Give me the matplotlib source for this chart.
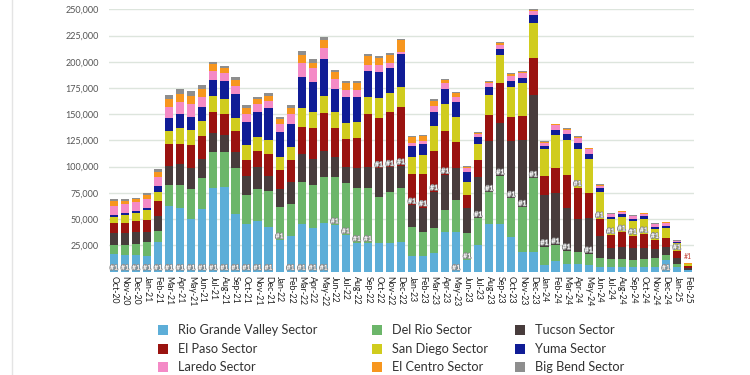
import matplotlib
matplotlib.use('Agg')
import matplotlib.pyplot as plt
import matplotlib.patheffects as pe
from matplotlib.patches import Rectangle
from matplotlib.lines import Line2D
import numpy as np
import pandas as pd

plt.rcParams['font.family'] = ['Lato', 'DejaVu Sans']

# month labels Oct-20 .. Feb-25
months = pd.date_range('2020-10-01', periods=53, freq='MS').strftime('%b-%y').tolist()

sectors = ['Rio Grande Valley Sector', 'Del Rio Sector', 'Tucson Sector',
           'El Paso Sector', 'San Diego Sector', 'Yuma Sector',
           'Laredo Sector', 'El Centro Sector', 'Big Bend Sector']
colors = ['#5daed8', '#6cb66a', '#483c3c', '#9a1310', '#d0cc1e',
          '#101c96', '#f48ac6', '#f7961e', '#8e8e8e']

# monthly apprehensions, thousands
rio_grande = [16.7, 15.7, 15.7, 15.0, 27.8, 62.4, 60.2, 50.4, 59.3, 79.9, 80.9,
              54.5, 45.3, 48.5, 42.7, 30.0, 33.9, 45.3, 41.8, 46.0, 44.3, 34.8,
              27.5, 27.5, 27.5, 27.5, 28.4, 14.6, 14.6, 17.3, 37.4, 37.4, 11.0,
              25.3, 45.3, 45.3, 32.6, 18.3, 18.3, 6.2, 10.3, 7.0, 7.0, 6.2, 4.6,
              4.6, 4.6, 4.0, 4.0, 4.6, 10.5, 4.5, 1.0]
del_rio = [8.6, 9.5, 10.5, 12.7, 11.1, 19.7, 21.9, 28.0, 30.2, 33.7, 32.7,
           43.9, 27.6, 29.9, 34.0, 31.1, 30.5, 40.4, 40.7, 44.4, 45.5, 49.3,
           51.8, 51.8, 43.2, 48.6, 50.8, 28.0, 23.2, 23.8, 21.3, 30.8, 25.4,
           25.4, 30.2, 45.8, 37.2, 42.9, 70.6, 17.5, 14.9, 12.7, 11.8, 10.5,
           7.9, 7.0, 7.0, 7.0, 7.9, 7.9, 5.4, 2.5, 0.8]
tucson = [11.7, 11.7, 11.1, 9.5, 14.0, 18.4, 20.3, 20.0, 17.5, 18.1, 16.5,
          15.9, 18.4, 21.0, 14.6, 17.2, 21.3, 26.4, 24.5, 24.8, 19.7, 15.9,
          19.1, 20.7, 27.6, 23.2, 21.6, 20.7, 23.2, 35.0, 33.4, 30.2, 23.8,
          39.7, 48.9, 50.2, 55.0, 64.2, 79.5, 49.3, 49.9, 41.0, 31.1, 34.0,
          21.6, 11.1, 12.1, 11.1, 10.8, 8.6, 7.0, 5.5, 1.5]
el_paso = [9.0, 9.0, 10.8, 11.8, 14.0, 21.0, 19.1, 22.2, 22.2, 20.7, 20.0,
           19.7, 14.9, 15.6, 20.7, 18.4, 20.7, 26.1, 30.2, 35.6, 27.6, 26.1,
           29.2, 50.2, 48.3, 53.1, 56.3, 29.6, 32.4, 39.1, 42.3, 25.4, 12.7,
           15.9, 24.8, 38.8, 22.9, 22.9, 35.0, 18.4, 23.8, 31.1, 30.2, 23.8,
           15.9, 12.1, 13.7, 12.1, 13.0, 9.2, 9.0, 7.0, 1.8]
san_diego = [6.3, 8.0, 7.9, 9.5, 9.2, 12.7, 14.9, 14.3, 14.6, 15.3, 14.3,
             12.1, 14.3, 13.0, 13.3, 12.1, 12.7, 17.5, 15.3, 16.8, 14.6, 15.9,
             14.6, 15.9, 18.4, 17.5, 19.1, 15.9, 17.5, 23.8, 25.4, 23.2, 12.7,
             15.3, 19.1, 26.4, 28.6, 31.1, 34.0, 25.4, 31.1, 34.0, 37.2, 32.4,
             26.1, 15.3, 14.9, 14.0, 14.0, 9.8, 10.0, 7.3, 1.6]
yuma = [1.2, 1.6, 1.6, 1.9, 5.4, 12.4, 13.7, 12.1, 12.7, 14.9, 17.2,
        22.9, 22.2, 23.8, 30.2, 23.8, 21.6, 29.6, 28.6, 34.6, 22.2, 24.8,
        24.5, 25.4, 25.4, 24.5, 31.1, 11.1, 10.5, 13.3, 14.0, 14.9, 9.5,
        6.4, 7.3, 5.4, 5.7, 5.4, 7.3, 3.2, 5.4, 5.7, 5.4, 4.8,
        3.2, 2.2, 2.2, 2.2, 3.2, 1.9, 1.9, 1.2, 0.5]
laredo = [9.3, 8.6, 8.3, 8.3, 8.9, 10.5, 11.8, 12.7, 10.2, 8.9, 7.3,
          7.9, 7.9, 7.9, 7.0, 7.9, 9.5, 13.3, 12.7, 11.1, 9.5, 6.4,
          6.4, 5.4, 6.4, 4.1, 2.2, 2.9, 3.2, 5.4, 5.7, 4.8, 3.2,
          3.2, 3.8, 4.1, 4.4, 4.1, 3.8, 2.9, 4.1, 3.8, 4.8, 4.8,
          2.5, 2.2, 2.5, 2.2, 2.2, 2.9, 2.9, 1.2, 0.4]
el_centro = [4.5, 3.2, 2.9, 4.1, 4.8, 7.3, 7.0, 7.9, 7.6, 6.0, 4.8,
             5.7, 5.7, 4.8, 4.8, 5.4, 6.0, 7.9, 5.4, 7.9, 7.0, 7.0,
             6.4, 8.6, 7.3, 7.9, 11.1, 5.7, 4.4, 5.1, 3.2, 3.2, 1.6,
             1.3, 1.6, 2.2, 1.9, 1.6, 1.0, 1.0, 1.0, 1.0, 1.0, 1.0,
             0.6, 0.6, 0.6, 0.6, 0.6, 0.6, 0.6, 0.3, 0.1]
big_bend = [1.5, 1.5, 1.6, 1.6, 2.2, 3.8, 4.8, 4.4, 3.5, 2.5, 2.5,
            2.5, 2.2, 2.2, 2.5, 1.6, 2.5, 4.1, 3.2, 2.5, 1.6, 1.6,
            2.2, 1.6, 1.6, 1.6, 1.6, 1.0, 1.0, 1.3, 1.3, 1.3, 1.0,
            0.6, 0.6, 1.0, 0.6, 0.6, 0.4, 0.6, 0.6, 0.6, 0.6, 0.6,
            0.6, 0.3, 0.3, 0.3, 0.3, 0.3, 0.3, 0.2, 0.1]

series = [rio_grande, del_rio, tucson, el_paso, san_diego,
          yuma, laredo, el_centro, big_bend]
data = np.array(series) * 1000

fig = plt.figure(figsize=(7.5, 3.75), dpi=100)
ax = fig.add_axes([0.1447, 0.276, 0.78, 0.699])

x = np.arange(len(months))
bottom = np.zeros(len(months))
for vals, color, name in zip(data, colors, sectors):
    ax.bar(x, vals, 0.74, bottom=bottom, color=color, linewidth=0,
           zorder=2, label=name)
    bottom += vals

# "#1" tag at the base of the biggest sector in each month
cum = np.vstack([np.zeros(len(months)), np.cumsum(data, axis=0)])
for i in x:
    k = np.argmax(data[:, i])
    if data[k, i] < 4000:
        ax.text(i, bottom[i] + 3500, '#1', color='#c0392b', fontsize=5,
                ha='center', va='bottom', zorder=3)
    else:
        ax.text(i, cum[k, i] + 700, '#1', color='white', fontsize=5,
                fontweight='bold', ha='center', va='bottom', zorder=3,
                path_effects=[pe.withStroke(linewidth=1.1,
                                            foreground='#888888')])

ax.set_xlim(-0.5, len(months) - 0.5)
ax.set_ylim(0, 250000)
ax.set_yticks(range(25000, 250001, 25000))
ax.set_yticklabels(['{:,}'.format(v) for v in range(25000, 250001, 25000)],
                   fontsize=6.5, color='#555555')
ax.set_xticks(x)
ax.set_xticklabels(months, rotation=-90, fontsize=6.3, color='#222222')
ax.tick_params(axis='both', length=0)
ax.tick_params(axis='y', pad=7)
ax.tick_params(axis='x', pad=3)
ax.yaxis.grid(True, color='#dde5dd', linewidth=1)
ax.set_axisbelow(True)
for s in ax.spines.values():
    s.set_visible(False)

# legend, 3 x 3 grid
col_x = [158, 372, 515]
row_y = [330, 349, 367]
for n, (name, color) in enumerate(zip(sectors, colors)):
    r, c = divmod(n, 3)
    px, py = col_x[c], row_y[r]
    fig.add_artist(Rectangle((px / 750, 1 - (py + 5) / 375), 10 / 750, 10 / 375,
                             transform=fig.transFigure, color=color, lw=0))
    fig.text((px + 20) / 750, 1 - py / 375, name, fontsize=9.2,
             color='#333333', va='center', ha='left')

# faint frame line on the left edge
fig.add_artist(Line2D([12 / 750, 12 / 750], [0, 1], color='#e4e4e4', lw=1))

fig.savefig('out.png', dpi=100)
